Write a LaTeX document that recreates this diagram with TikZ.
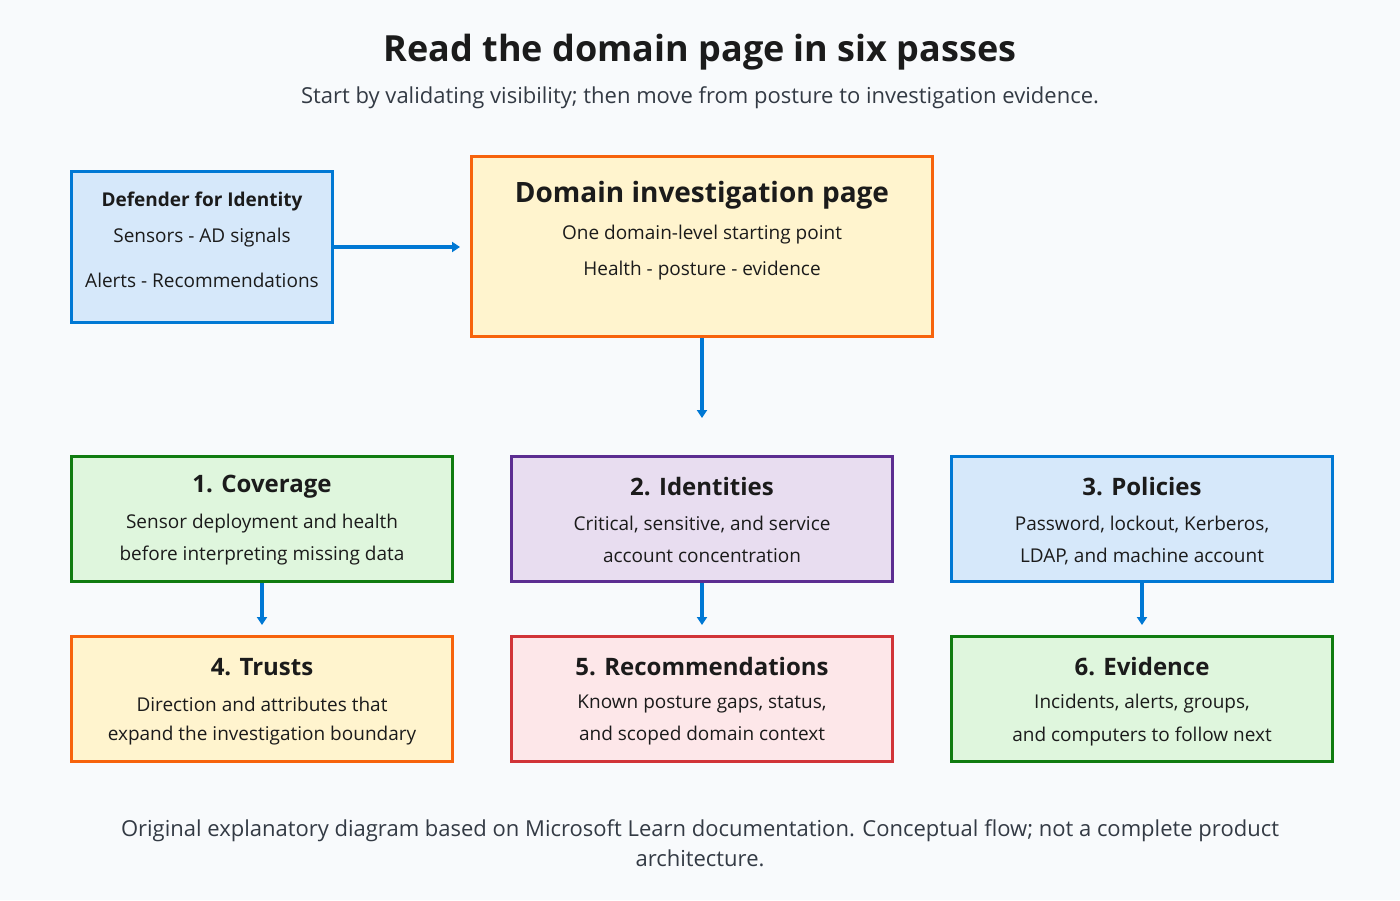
\documentclass[tikz,border=0pt]{standalone}
\usepackage{fontspec}
\setmainfont{Open Sans}
\usetikzlibrary{arrows.meta,positioning}
\definecolor{bgc}{HTML}{F8FAFC}
\definecolor{ink}{HTML}{1B1B1B}
\definecolor{soft}{HTML}{333A44}
\definecolor{msblue}{HTML}{0078D4}
\definecolor{blufill}{HTML}{D6E8FA}
\definecolor{msorange}{HTML}{F7630C}
\definecolor{yelfill}{HTML}{FFF4CE}
\definecolor{msgreen}{HTML}{107C10}
\definecolor{grnfill}{HTML}{DFF6DD}
\definecolor{mspurple}{HTML}{5C2D91}
\definecolor{purfill}{HTML}{E8DDF0}
\definecolor{msred}{HTML}{D13438}
\definecolor{redfill}{HTML}{FDE7E9}
\tikzset{
  card/.style n args={2}{draw=#1, fill=#2, line width=1.5pt, rectangle, inner sep=0pt},
  head/.style={font=\bfseries\fontsize{12}{14}\selectfont, text=ink},
  body/.style={font=\fontsize{9.5}{11}\selectfont, text=ink},
  flow/.style={draw=msblue, line width=1.8pt, -{Triangle[length=4pt,width=5pt]}}
}
\begin{document}
\begin{tikzpicture}[x=0.5pt,y=-0.5pt]
\fill[bgc] (0,0) rectangle (1400,900);
\useasboundingbox (0,0) rectangle (1400,900);

% titles
\node[font=\bfseries\fontsize{18}{21}\selectfont, text=ink] (title) at (700,52) {Read the domain page in six passes};
\node[font=\fontsize{11}{13}\selectfont, text=soft] (sub) at (700,98) {Start by validating visibility; then move from posture to investigation evidence.};

% top boxes
\node[card={msblue}{blufill}, minimum width=130.5pt, minimum height=75.5pt, anchor=north west] (mdi) at (70,170) {};
\node[font=\bfseries\fontsize{9.5}{11}\selectfont, text=ink] at ([yshift=-16pt]mdi.north) {Defender for Identity};
\node[body] at ([yshift=-34pt]mdi.north) {Sensors - AD signals};
\node[body] at ([yshift=-55pt]mdi.north) {Alerts - Recommendations};

\node[card={msorange}{yelfill}, minimum width=230.5pt, minimum height=90pt, anchor=north west] (dom) at (470,155) {};
\node[font=\bfseries\fontsize{14}{16}\selectfont, text=ink] at ([yshift=-20pt]dom.north) {Domain investigation page};
\node[body] at ([yshift=-40pt]dom.north) {One domain-level starting point};
\node[body] at ([yshift=-58pt]dom.north) {Health - posture - evidence};

% six passes
\foreach \nm/\x/\y/\bc/\fc/\hd/\la/\lb in {
  cov/70/455/msgreen/grnfill/1. Coverage/Sensor deployment and health/before interpreting missing data,
  ids/510/455/mspurple/purfill/2. Identities/{Critical, sensitive, and service}/account concentration,
  pol/950/455/msblue/blufill/3. Policies/{Password, lockout, Kerberos,}/{LDAP, and machine account},
  tru/70/635/msorange/yelfill/4. Trusts/Direction and attributes that/expand the investigation boundary,
  rec/510/635/msred/redfill/5. Recommendations/{Known posture gaps, status,}/and scoped domain context,
  evi/950/635/msgreen/grnfill/6. Evidence/{Incidents, alerts, groups,}/and computers to follow next}{
  \node[card={\bc}{\fc}, minimum width=190.5pt, minimum height=62.5pt, anchor=north west] (\nm) at (\x,\y) {};
  \node[head] at ([yshift=-16pt]\nm.north) {\hd};
  \node[body] at ([yshift=-34.5pt]\nm.north) {\la};
  \node[body] at ([yshift=-50.5pt]\nm.north) {\lb};
}

% connectors
\draw[flow, shorten >=5pt] (mdi.east) -- (dom.west |- mdi.east);
\draw[flow, shorten >=18.5pt] (dom.south) -- (ids.north);
\draw[flow, shorten >=5pt] (cov.south) -- (tru.north);
\draw[flow, shorten >=5pt] (ids.south) -- (rec.north);
\draw[flow, shorten >=5pt] (pol.south) -- (evi.north);

% footer
\node[font=\fontsize{11}{15}\selectfont, text=soft, align=center] (foot) at (700,843) {Original explanatory diagram based on Microsoft Learn documentation. Conceptual flow; not a complete product\\architecture.};
\end{tikzpicture}
\end{document}
